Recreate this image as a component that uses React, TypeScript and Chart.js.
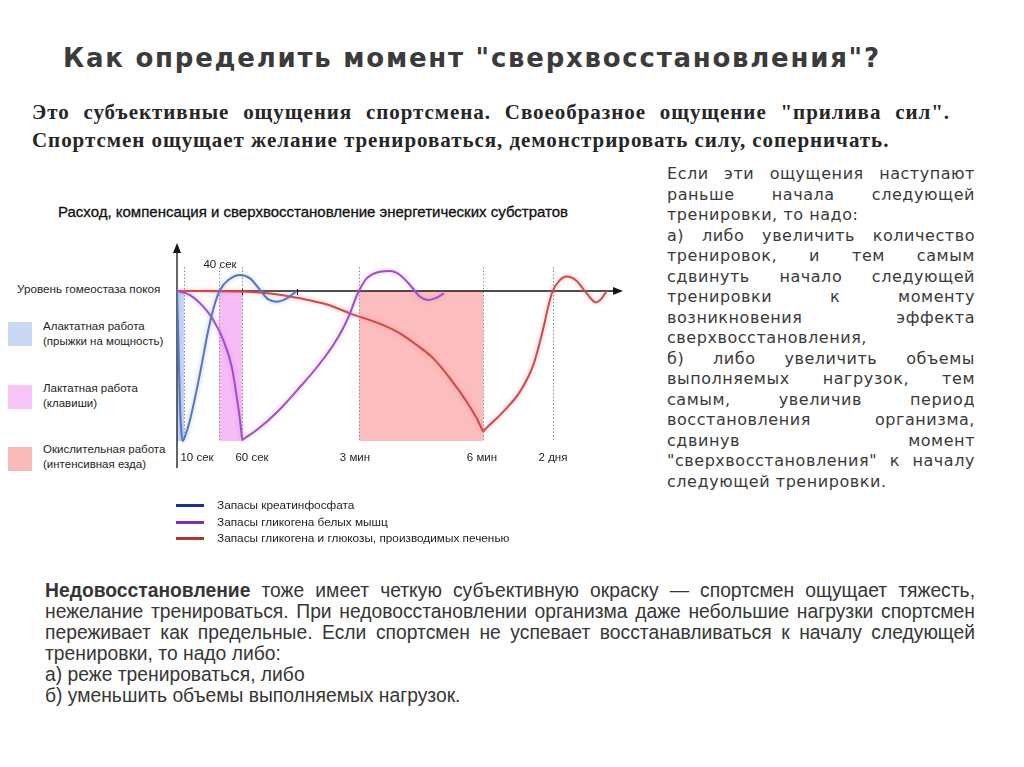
import React, { useEffect, useRef } from "react";
import { Chart, registerables } from "chart.js";

Chart.register(...registerables);

// x: schematic time position along the axis, y: level of stores (0 = rest homeostasis, -100 = maximal depletion)
const creatineX = [0, 1.3, 3, 4.5, 5.7, 8, 13, 23, 31.3, 38, 43, 51.3, 63, 73, 83, 91.3, 99.7, 109.7, 119];
const creatineY = [0, -32.7, -77, -95, -100, -97, -86, -55, -26, -8.2, 0.7, 7.3, 10.7, 8.4, 0.7, -5.6, -7.1, -4.9, -0.4];

const muscleX = [0, 13, 26.3, 36.3, 46.3, 54.7, 59.7, 63, 64.5, 65.3, 67, 79.7, 99.7, 123, 139.7, 156.3, 166, 173, 178, 182.3, 189.7, 203, 213, 223, 233, 243, 251.3, 259.7, 267];
const muscleY = [0, -2.7, -10.4, -19.3, -32.7, -50.4, -70.4, -86, -95, -99.3, -98.5, -92.7, -81, -64, -51, -36, -25, -14.9, -6, 0.5, 8.4, 12.9, 13.3, 10.7, 4, -3.8, -6, -4.4, -1.6];

const liverX = [0, 59.7, 93, 123, 150, 173, 206.3, 223, 239.7, 256.3, 273, 289.7, 299.7, 303.5, 306.3, 308.5, 326.3, 343, 356.3, 366.3, 371, 375.7, 383, 389.7, 399.7, 409.7, 419, 424.7, 429.7];
const liverY = [0, -0.3, -1.6, -4.9, -9, -14.9, -22.7, -28.2, -36, -44.9, -58.2, -73.8, -84.9, -90, -93.5, -92, -80.4, -67.1, -49.3, -24.9, -11, 0, 7.3, 9.6, 6.7, -1.6, -7.6, -4.9, 0];

const seriesNames = [
  "Запасы креатинфосфата",
  "Запасы гликогена белых мышц",
  "Запасы гликогена и глюкозы, производимых печенью",
];
const seriesColors = ["#5677bf", "#a04fc4", "#cf4a4a"];
const seriesGlow = ["rgba(120,150,230,0.55)", "rgba(220,110,240,0.55)", "rgba(240,120,120,0.55)"];
const legendColors = ["#1f2f8f", "#7d2fae", "#a63a2b"];

const eventLabels = ["10 сек", "40 сек", "60 сек", "3 мин", "6 мин", "2 дня"];
const eventX = [7, 42.3, 65.3, 182.3, 306.3, 375.7];
const labelX = [20, 43, 75, 178, 305, 376];
const labelY = [-111, 17.5, -111, -111, -111, -111];
const axisTickX = [65.3, 120];

const zoneStart = [0, 42.3, 182.3];
const zoneEnd = [7, 65.3, 306.3];
const zoneColors = ["#c7d7f4", "#f5bcf5", "#fbbdbd"];

const workNames = [
  ["Алактатная работа", "(прыжки на мощность)"],
  ["Лактатная работа", "(клавиши)"],
  ["Окислительная работа", "(интенсивная езда)"],
];
const workColors = ["#c9d9f4", "#f7c6f7", "#f9bbb7"];

const rightLines: [string, boolean][] = [
  ["Если эти ощущения наступают", true],
  ["раньше начала следующей", true],
  ["тренировки, то надо:", false],
  ["а) либо увеличить количество", true],
  ["тренировок, и тем самым", true],
  ["сдвинуть начало следующей", true],
  ["тренировки к моменту", true],
  ["возникновения эффекта", true],
  ["сверхвосстановления,", false],
  ["б) либо увеличить объемы", true],
  ["выполняемых нагрузок, тем", true],
  ["самым, увеличив период", true],
  ["восстановления организма,", true],
  ["сдвинув момент", true],
  ["\"сверхвосстановления\" к началу", true],
  ["следующей тренировки.", false],
];

const bottomLines: [string, boolean][] = [
  [" тоже имеет четкую субъективную окраску — спортсмен ощущает тяжесть,", true],
  ["нежелание тренироваться. При недовосстановлении организма даже небольшие нагрузки спортсмен", true],
  ["переживает как предельные. Если спортсмен не успевает восстанавливаться к началу следующей", true],
  ["тренировки, то надо либо:", false],
  ["а) реже тренироваться, либо", false],
  ["б) уменьшить объемы выполняемых нагрузок.", false],
];

const overlayPlugin = {
  id: "overlay",
  beforeDatasetsDraw(chart: any) {
    const { ctx } = chart;
    const x = chart.scales.x;
    const y = chart.scales.y;
    ctx.save();
    const top0 = y.getPixelForValue(0);
    const bot = y.getPixelForValue(-100);
    zoneStart.forEach((s, i) => {
      const l = x.getPixelForValue(s);
      const r = x.getPixelForValue(zoneEnd[i]);
      ctx.fillStyle = zoneColors[i];
      ctx.fillRect(l, top0, r - l, bot - top0);
    });
    ctx.setLineDash([1.5, 2]);
    ctx.strokeStyle = "#8c8c8c";
    ctx.lineWidth = 1;
    eventX.forEach((v) => {
      const px = Math.round(x.getPixelForValue(v)) + 0.5;
      ctx.beginPath();
      ctx.moveTo(px, y.getPixelForValue(16));
      ctx.lineTo(px, bot);
      ctx.stroke();
    });
    ctx.setLineDash([]);
    ctx.strokeStyle = "#151515";
    ctx.fillStyle = "#151515";
    ctx.lineWidth = 1.3;
    const x0 = x.getPixelForValue(0);
    const y0 = y.getPixelForValue(0);
    const yTop = y.getPixelForValue(y.max);
    const yBot = y.getPixelForValue(y.min);
    const xEnd = x.getPixelForValue(x.max);
    ctx.beginPath();
    ctx.moveTo(x0, yBot);
    ctx.lineTo(x0, yTop + 6);
    ctx.moveTo(x0, y0);
    ctx.lineTo(xEnd - 6, y0);
    ctx.stroke();
    ctx.beginPath();
    ctx.moveTo(x0, yTop);
    ctx.lineTo(x0 - 4, yTop + 10);
    ctx.lineTo(x0 + 4, yTop + 10);
    ctx.closePath();
    ctx.fill();
    ctx.beginPath();
    ctx.moveTo(xEnd, y0);
    ctx.lineTo(xEnd - 10, y0 - 4);
    ctx.lineTo(xEnd - 10, y0 + 4);
    ctx.closePath();
    ctx.fill();
    ctx.lineWidth = 1;
    axisTickX.forEach((v) => {
      const px = Math.round(x.getPixelForValue(v)) + 0.5;
      ctx.beginPath();
      ctx.moveTo(px, y0 - 2);
      ctx.lineTo(px, y0 + 4);
      ctx.stroke();
    });
    ctx.restore();
  },
  beforeDatasetDraw(chart: any, args: any) {
    const ctx = chart.ctx;
    ctx.save();
    ctx.shadowColor = seriesGlow[args.index];
    ctx.shadowBlur = 4;
  },
  afterDatasetDraw(chart: any) {
    chart.ctx.restore();
  },
  afterDatasetsDraw(chart: any) {
    const { ctx } = chart;
    const x = chart.scales.x;
    const y = chart.scales.y;
    ctx.save();
    ctx.font = '11.5px "Liberation Sans", Arial, sans-serif';
    ctx.fillStyle = "#1e1e1e";
    ctx.textAlign = "center";
    ctx.textBaseline = "middle";
    eventLabels.forEach((t, i) => {
      ctx.fillText(t, x.getPixelForValue(labelX[i]), y.getPixelForValue(labelY[i]));
    });
    ctx.restore();
  },
};

const sans = '"Liberation Sans", Arial, sans-serif';

export default function App() {
  const canvasRef = useRef<HTMLCanvasElement>(null);

  useEffect(() => {
    const mk = (xs: number[], ys: number[], i: number) => ({
      label: seriesNames[i],
      data: xs.map((v, k) => ({ x: v, y: ys[k] })),
      borderColor: seriesColors[i],
      backgroundColor: seriesColors[i],
      borderWidth: 2,
      pointRadius: 0,
      fill: false,
      cubicInterpolationMode: "monotone" as const,
    });
    const chart = new Chart(canvasRef.current!, {
      type: "line",
      data: {
        datasets: [mk(creatineX, creatineY, 0), mk(muscleX, muscleY, 1), mk(liverX, liverY, 2)],
      },
      options: {
        responsive: true,
        maintainAspectRatio: false,
        animation: false,
        layout: { padding: { left: 177, right: 17, top: 53, bottom: 92 } },
        plugins: { legend: { display: false }, tooltip: { enabled: false } },
        scales: {
          x: { type: "linear", min: 0, max: 446, display: false },
          y: { type: "linear", min: -118, max: 32, display: false },
        },
      },
      plugins: [overlayPlugin],
    });
    return () => chart.destroy();
  }, []);

  return (
    <div
      style={{
        position: "absolute",
        left: 0,
        top: 0,
        width: 1024,
        height: 767,
        background: "#fff",
        overflow: "hidden",
      }}
    >
      <div
        style={{
          position: "absolute",
          left: 63,
          top: 45,
          fontFamily: '"DejaVu Sans", Verdana, sans-serif',
          fontWeight: 700,
          fontSize: 26,
          lineHeight: "26px",
          letterSpacing: 1.75,
          color: "#3b3b3b",
          whiteSpace: "nowrap",
        }}
      >
        Как определить момент "сверхвосстановления"?
      </div>

      <div
        style={{
          position: "absolute",
          left: 32,
          top: 99,
          width: 918,
          fontFamily: '"Liberation Serif", "Times New Roman", serif',
          fontWeight: 700,
          fontSize: 21,
          lineHeight: "27.7px",
          letterSpacing: 0.95,
          color: "#262626",
        }}
      >
        <div style={{ textAlign: "justify", textAlignLast: "justify" }}>
          Это субъективные ощущения спортсмена. Своеобразное ощущение "прилива сил".
        </div>
        <div style={{ whiteSpace: "nowrap" }}>
          Спортсмен ощущает желание тренироваться, демонстрировать силу, соперничать.
        </div>
      </div>

      <div
        style={{
          position: "absolute",
          left: 667,
          top: 164,
          width: 308,
          fontFamily: '"DejaVu Sans", Verdana, sans-serif',
          fontSize: 16,
          lineHeight: "20.5px",
          letterSpacing: 0.55,
          color: "#3a3a3a",
        }}
      >
        {rightLines.map(([t, j], i) => (
          <div key={i} style={{ textAlign: j ? "justify" : "left", textAlignLast: j ? "justify" : "left" }}>
            {t}
          </div>
        ))}
      </div>

      <div
        style={{
          position: "absolute",
          left: 58,
          top: 204,
          fontFamily: sans,
          fontSize: 15,
          lineHeight: "16px",
          color: "#111",
          WebkitTextStroke: "0.3px #111",
          whiteSpace: "nowrap",
        }}
      >
        Расход, компенсация и сверхвосстановление энергетических субстратов
      </div>

      <div
        style={{
          position: "absolute",
          left: 17,
          top: 282,
          fontFamily: sans,
          fontSize: 11.7,
          lineHeight: "14px",
          color: "#1e1e1e",
          whiteSpace: "nowrap",
        }}
      >
        Уровень гомеостаза покоя
      </div>

      {workNames.map((w, i) => (
        <React.Fragment key={i}>
          <div
            style={{
              position: "absolute",
              left: 8,
              top: [322, 385, 447][i],
              width: 24,
              height: 24,
              background: workColors[i],
            }}
          />
          <div
            style={{
              position: "absolute",
              left: 43,
              top: [319, 381, 442][i],
              fontFamily: sans,
              fontSize: 11.5,
              lineHeight: "14.5px",
              color: "#1e1e1e",
              whiteSpace: "nowrap",
            }}
          >
            <div>{w[0]}</div>
            <div>{w[1]}</div>
          </div>
        </React.Fragment>
      ))}

      <div style={{ position: "absolute", left: 0, top: 190, width: 640, height: 370 }}>
        <canvas ref={canvasRef} />
      </div>

      {seriesNames.map((n, i) => (
        <React.Fragment key={i}>
          <div
            style={{
              position: "absolute",
              left: 176,
              top: [504, 521, 537][i],
              width: 28,
              height: 3,
              background: legendColors[i],
            }}
          />
          <div
            style={{
              position: "absolute",
              left: 217,
              top: [498, 515, 531][i],
              fontFamily: sans,
              fontSize: 11.8,
              lineHeight: "14px",
              color: "#1e1e1e",
              whiteSpace: "nowrap",
            }}
          >
            {n}
          </div>
        </React.Fragment>
      ))}

      <div
        style={{
          position: "absolute",
          left: 45,
          top: 580,
          width: 930,
          fontFamily: sans,
          fontSize: 19.3,
          lineHeight: "21px",
          color: "#363636",
        }}
      >
        {bottomLines.map(([t, j], i) => (
          <div key={i} style={{ textAlign: j ? "justify" : "left", textAlignLast: j ? "justify" : "left" }}>
            {i === 0 ? <b>Недовосстановление</b> : null}
            {t}
          </div>
        ))}
      </div>
    </div>
  );
}
